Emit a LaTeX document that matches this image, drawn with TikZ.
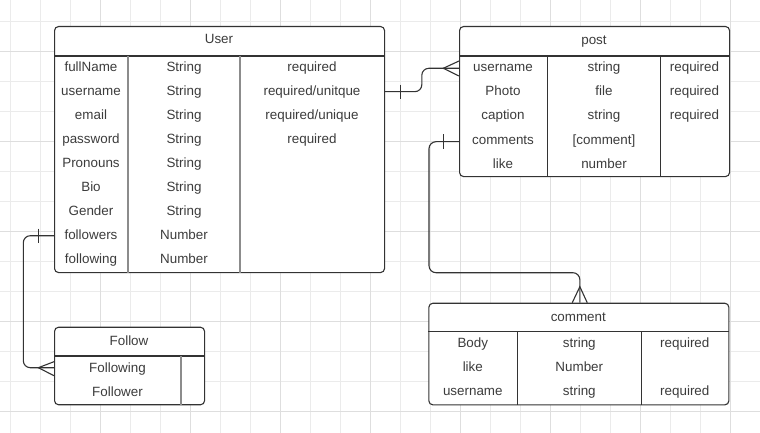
\documentclass[tikz,border=0pt]{standalone}
\usepackage{fontspec}
\setmainfont{Liberation Sans}
\usetikzlibrary{calc}
\definecolor{ink}{HTML}{333333}
\definecolor{textc}{HTML}{3C3C3C}
\definecolor{gridc}{HTML}{EBEBEB}
\definecolor{gridmaj}{HTML}{DEDEDE}
\definecolor{divgray}{HTML}{8C8C8C}
\begin{document}
\begin{tikzpicture}[x=1pt,y=-1pt,
  tbl/.style={draw=ink, line width=1.1pt, rounded corners=4pt, anchor=north west, inner sep=0pt, fill=white},
  txt/.style={text=textc, font=\fontsize{13.4}{16}\selectfont, anchor=base, inner sep=0pt},
  conn/.style={draw=ink, line width=1.1pt, rounded corners=7pt},
  endmark/.style={draw=ink, line width=1.1pt},
  hline/.style={draw=ink, line width=1.1pt},
  gdiv/.style={draw=divgray, line width=1.4pt},
  ddiv/.style={draw=ink, line width=1.1pt}]
\fill[white] (0,0) rectangle (760,433);
\useasboundingbox (0,0) rectangle (760,433);
% grid
\foreach \x in {10,40,...,760} \draw[gridc, line width=0.8pt] (\x,0) -- (\x,433);
\foreach \y in {21.7,51.7,...,433} \draw[gridc, line width=0.8pt] (0,\y) -- (760,\y);
\foreach \x in {100,190,...,760} \draw[gridmaj, line width=0.8pt] (\x,0) -- (\x,433);
\foreach \y in {51.7,141.7,...,433} \draw[gridmaj, line width=0.8pt] (0,\y) -- (760,\y);

% tables
\node[tbl, minimum width=330pt, minimum height=246pt] (user) at (54,26) {};
\node[tbl, minimum width=270pt, minimum height=150pt] (post) at (459,26) {};
\node[tbl, minimum width=150pt, minimum height=77.5pt] (follow) at (54,326.7) {};
\node[tbl, minimum width=300pt, minimum height=101.6pt] (comment) at (428.3,302.7) {};

% header lines
\draw[hline] ($(user.north west)+(0,30)$) -- ($(user.north east)+(0,30)$);
\draw[hline] ($(post.north west)+(0,30)$) -- ($(post.north east)+(0,30)$);
\draw[hline] ($(follow.north west)+(0,29.3)$) -- ($(follow.north east)+(0,29.3)$);
\draw[hline] ($(comment.north west)+(0,29)$) -- ($(comment.north east)+(0,29)$);

% column dividers
\draw[gdiv] ($(user.north west)+(74,30)$) -- ($(user.south west)+(74,0)$);
\draw[gdiv] ($(user.north west)+(186,30)$) -- ($(user.south west)+(186,0)$);
\draw[ddiv] ($(post.north west)+(88.3,30)$) -- ($(post.south west)+(88.3,0)$);
\draw[ddiv] ($(post.north west)+(201.7,30)$) -- ($(post.south west)+(201.7,0)$);
\draw[gdiv] ($(follow.north west)+(127,29.3)$) -- ($(follow.south west)+(127,0)$);
\draw[ddiv] ($(comment.north west)+(89,29)$) -- ($(comment.south west)+(89,0)$);
\draw[ddiv] ($(comment.north west)+(213,29)$) -- ($(comment.south west)+(213,0)$);

% headers
\node[txt] (userh) at (219,44) {User};
\node[txt] (posth) at (594,44.3) {post};
\node[txt] (followh) at (129,345.3) {Follow};
\node[txt] (commenth) at (578.3,321.3) {comment};

% User rows
\foreach \a/\b [count=\i] in {fullName/String,username/String,email/String,password/String,Pronouns/String,Bio/String,Gender/String,followers/Number,following/Number}{
  \node[txt] (ua\i) at (91,{71.3+24*(\i-1)}) {\a};
  \node[txt] (ub\i) at (184,{71.3+24*(\i-1)}) {\b};
}
\node[txt] (uc1) at (312,71.3) {required};
\node[txt] (uc2) at (312,95.3) {required/unitque};
\node[txt] (uc3) at (312,119.3) {required/unique};
\node[txt] (uc4) at (312,143.3) {required};

% post rows
\foreach \a/\b [count=\i] in {username/string,Photo/file,caption/string,comments/{[comment]},like/number}{
  \node[txt] (pa\i) at (503,{72+24*(\i-1)}) {\a};
  \node[txt] (pb\i) at (604,{72+24*(\i-1)}) {\b};
}
\node[txt] (pc1) at (694.5,72) {required};
\node[txt] (pc2) at (694.5,96) {required};
\node[txt] (pc3) at (694.5,120) {required};

% Follow rows
\node[txt] (fa1) at (117.5,372) {Following};
\node[txt] (fa2) at (117.5,396) {Follower};

% comment rows
\foreach \a/\b [count=\i] in {Body/string,like/Number,username/string}{
  \node[txt] (ca\i) at (472.8,{347.6+24*(\i-1)}) {\a};
  \node[txt] (cb\i) at (579.3,{347.6+24*(\i-1)}) {\b};
}
\node[txt] (cc1) at (684.8,347.6) {required};
\node[txt] (cc3) at (684.8,395.6) {required};

% connector: User -> post
\coordinate (c1a) at ($(user.north east)+(0,65.7)$);
\coordinate (c1b) at ($(post.north west)+(0,42.3)$);
\draw[conn] (c1a) -- ($(c1a)+(36.7,0)$) |- (c1b);
\draw[endmark] ($(c1a)+(15.3,-7)$) -- ($(c1a)+(15.3,7)$);
\draw[endmark] ($(c1b)+(0,-7.3)$) -- ($(c1b)+(-15.7,0)$) -- ($(c1b)+(0,7.7)$);

% connector: post -> comment
\coordinate (c2a) at ($(post.north west)+(0,115.7)$);
\coordinate (c2b) at ($(comment.north)+(1,0)$);
\draw[conn] (c2a) -- ++(-30,0) -- ++(0,131) -| (c2b);
\draw[endmark] ($(c2a)+(-15.7,-7.5)$) -- ($(c2a)+(-15.7,7)$);
\draw[endmark] ($(c2b)+(-7.6,0)$) -- ($(c2b)+(0,-16)$) -- ($(c2b)+(7.4,0)$);

% connector: User -> Follow
\coordinate (c3a) at ($(user.north west)+(0,209.7)$);
\coordinate (c3b) at ($(follow.north west)+(0,41)$);
\draw[conn] (c3a) -- ++(-30.7,0) |- (c3b);
\draw[endmark] ($(c3a)+(-15.7,-7)$) -- ($(c3a)+(-15.7,7)$);
\draw[endmark] ($(c3b)+(0,-6)$) -- ($(c3b)+(-15.7,0)$) -- ($(c3b)+(0,8)$);
\end{tikzpicture}
\end{document}
